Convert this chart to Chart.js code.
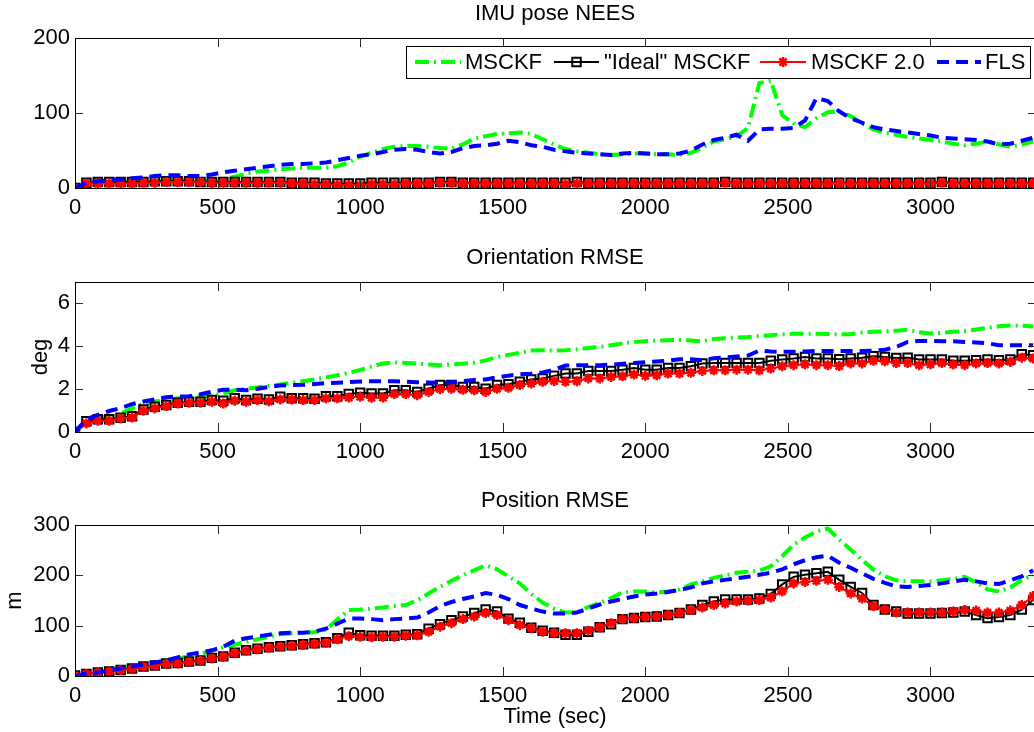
<!DOCTYPE html>
<html>
<head>
<meta charset="utf-8">
<script src="https://cdn.jsdelivr.net/npm/chart.js@4.4.0/dist/chart.umd.min.js"></script>
<style>
  html, body { margin: 0; padding: 0; background: #fff; overflow: hidden; width: 1034px; height: 732px; }
  canvas { position: absolute; left: 0; }
</style>
</head>
<body>
<canvas id="nees" width="1044" height="225" style="top:0"></canvas>
<canvas id="orient" width="1044" height="245" style="top:225px"></canvas>
<canvas id="pos" width="1044" height="262" style="top:470px"></canvas>
<script>
// time stamps (sec)
const times = [
  0, 40, 80, 120, 160, 200, 240, 280, 320, 360,
  400, 440, 480, 520, 560, 600, 640, 680, 720, 760,
  800, 840, 880, 920, 960, 1000, 1040, 1080, 1120, 1160,
  1200, 1240, 1280, 1320, 1360, 1400, 1440, 1480, 1520, 1560,
  1600, 1640, 1680, 1720, 1760, 1800, 1840, 1880, 1920, 1960,
  2000, 2040, 2080, 2120, 2160, 2200, 2240, 2280, 2320, 2360,
  2400, 2440, 2480, 2520, 2560, 2600, 2640, 2680, 2720, 2760,
  2800, 2840, 2880, 2920, 2960, 3000, 3040, 3080, 3120, 3160,
  3200, 3240, 3280, 3320, 3360
];

const seriesNames = ['MSCKF', '"Ideal" MSCKF', 'MSCKF 2.0', 'FLS'];
const xTicks = [0, 500, 1000, 1500, 2000, 2500, 3000];
const neesTicks = [0, 100, 200];
const orientTicks = [0, 2, 4, 6];
const posTicks = [0, 100, 200, 300];

// IMU pose NEES
const neesMsckf = [
  0, 5, 7, 8, 9, 10, 10, 10, 10, 10,
  10, 10, 10, 12, 15, 19, 22, 23, 25, 26,
  27, 27, 27, 29, 34, 42, 47, 52, 55, 56,
  56, 55, 53, 53, 58, 66, 69, 72, 73, 74,
  72, 65, 58, 52, 49, 47, 45, 44, 45, 46,
  46, 45, 45, 44, 47, 54, 62, 65, 69, 80,
  140, 143, 97, 86, 81, 93, 101, 102, 96, 86,
  78, 74, 71, 68, 66, 64, 62, 59, 57, 59,
  62, 58, 55, 58, 62
];
const neesIdeal = [
  0, 7, 8, 8, 8, 8, 8, 9, 9, 9,
  9, 8, 8, 8, 8, 8, 8, 8, 8, 7,
  7, 7, 6, 6, 6, 6, 7, 7, 7, 7,
  7, 7, 8, 8, 7, 7, 7, 7, 7, 7,
  7, 7, 7, 7, 8, 7, 7, 7, 7, 7,
  7, 7, 7, 7, 7, 7, 7, 8, 7, 7,
  7, 7, 7, 7, 7, 7, 7, 7, 7, 7,
  7, 7, 7, 7, 7, 7, 8, 7, 7, 7,
  7, 7, 7, 7, 7
];
const neesMsckf2 = [
  0, 6, 6, 6, 6, 6, 7, 7, 8, 8,
  8, 8, 7, 7, 7, 7, 7, 7, 7, 6,
  6, 5, 5, 4, 4, 4, 5, 5, 5, 6,
  6, 6, 7, 7, 6, 6, 6, 6, 6, 6,
  6, 6, 6, 5, 6, 6, 6, 6, 6, 6,
  6, 6, 6, 6, 6, 6, 6, 7, 6, 6,
  6, 6, 6, 6, 6, 6, 6, 6, 6, 6,
  6, 6, 6, 6, 6, 6, 7, 6, 6, 6,
  6, 6, 6, 6, 6
];
const neesFls = [
  0, 7, 9, 10, 11, 13, 14, 16, 17, 17,
  16, 16, 18, 21, 23, 25, 27, 29, 31, 32,
  32, 33, 34, 37, 40, 43, 45, 48, 51, 52,
  51, 48, 46, 48, 53, 56, 57, 59, 63, 61,
  57, 55, 51, 49, 47, 46, 45, 44, 46, 47,
  46, 45, 45, 46, 50, 58, 64, 67, 71, 63,
  78, 79, 79, 80, 90, 120, 116, 102, 93, 87,
  81, 78, 76, 74, 72, 70, 67, 66, 65, 64,
  62, 58, 59, 63, 67
];

// Orientation RMSE (deg)
const orientMsckf = [
  0, 0.45, 0.65, 0.75, 0.85, 1.10, 1.32, 1.42, 1.48, 1.58,
  1.65, 1.67, 1.70, 1.80, 1.95, 2.02, 2.08, 2.15, 2.22, 2.30,
  2.37, 2.45, 2.55, 2.65, 2.76, 2.90, 3.05, 3.20, 3.25, 3.22,
  3.19, 3.15, 3.12, 3.15, 3.19, 3.23, 3.34, 3.50, 3.60, 3.69,
  3.80, 3.82, 3.80, 3.81, 3.86, 3.92, 3.97, 4.05, 4.13, 4.20,
  4.24, 4.26, 4.28, 4.30, 4.27, 4.23, 4.34, 4.38, 4.41, 4.43,
  4.48, 4.52, 4.56, 4.58, 4.59, 4.59, 4.57, 4.56, 4.56, 4.64,
  4.68, 4.70, 4.73, 4.77, 4.66, 4.60, 4.63, 4.68, 4.71, 4.78,
  4.86, 4.93, 4.97, 4.96, 4.92
];
const orientIdeal = [
  0, 0.50, 0.60, 0.60, 0.67, 0.73, 1.05, 1.18, 1.26, 1.36,
  1.41, 1.41, 1.49, 1.46, 1.57, 1.49, 1.55, 1.52, 1.64, 1.57,
  1.57, 1.55, 1.67, 1.67, 1.77, 1.83, 1.80, 1.80, 1.95, 1.95,
  1.87, 2.02, 2.19, 2.19, 2.10, 2.10, 2.02, 2.19, 2.23, 2.34,
  2.45, 2.50, 2.62, 2.73, 2.73, 2.85, 2.85, 2.85, 2.91, 2.99,
  2.91, 2.91, 2.99, 2.99, 3.07, 3.20, 3.22, 3.22, 3.22, 3.22,
  3.22, 3.32, 3.38, 3.43, 3.50, 3.43, 3.43, 3.40, 3.43, 3.47,
  3.53, 3.50, 3.45, 3.47, 3.38, 3.38, 3.38, 3.32, 3.32, 3.35,
  3.38, 3.35, 3.38, 3.63, 3.58
];
const orientMsckf2 = [
  0, 0.40, 0.53, 0.53, 0.63, 0.68, 0.99, 1.10, 1.21, 1.33,
  1.36, 1.36, 1.41, 1.33, 1.46, 1.41, 1.49, 1.43, 1.52, 1.52,
  1.49, 1.49, 1.57, 1.57, 1.61, 1.64, 1.60, 1.61, 1.77, 1.77,
  1.72, 1.87, 2.00, 2.02, 1.97, 1.95, 1.87, 2.02, 2.06, 2.19,
  2.26, 2.34, 2.38, 2.34, 2.37, 2.50, 2.50, 2.57, 2.60, 2.68,
  2.62, 2.65, 2.73, 2.73, 2.76, 2.85, 2.88, 2.88, 2.91, 2.91,
  2.88, 2.96, 3.07, 3.12, 3.16, 3.12, 3.12, 3.08, 3.20, 3.20,
  3.32, 3.30, 3.22, 3.22, 3.12, 3.16, 3.22, 3.15, 3.12, 3.20,
  3.22, 3.20, 3.27, 3.47, 3.43
];
const orientFls = [
  0, 0.60, 0.80, 0.98, 1.12, 1.30, 1.42, 1.52, 1.62, 1.66,
  1.67, 1.76, 1.88, 1.97, 1.97, 1.95, 2.02, 2.10, 2.17, 2.19,
  2.20, 2.24, 2.28, 2.30, 2.33, 2.36, 2.37, 2.37, 2.37, 2.35,
  2.32, 2.31, 2.29, 2.32, 2.38, 2.43, 2.45, 2.55, 2.63, 2.69,
  2.72, 2.78, 2.90, 3.10, 3.12, 3.12, 3.12, 3.14, 3.18, 3.22,
  3.26, 3.29, 3.33, 3.40, 3.40, 3.35, 3.44, 3.48, 3.52, 3.57,
  3.80, 3.76, 3.74, 3.74, 3.76, 3.78, 3.78, 3.78, 3.78, 3.78,
  3.80, 3.84, 3.97, 4.20, 4.25, 4.25, 4.24, 4.23, 4.20, 4.18,
  4.14, 4.05, 4.05, 4.05, 4.05
];

// Position RMSE (m)
const posMsckf = [
  0, 4, 7, 11, 15, 19, 23, 27, 30, 35,
  39, 44, 50, 57, 62, 68, 73, 78, 83, 85,
  86, 87, 92, 112, 131, 132, 134, 136, 139, 141,
  150, 164, 177, 189, 200, 210, 220, 212, 198, 184,
  163, 146, 134, 126, 127, 137, 145, 155, 166, 168,
  168, 166, 168, 172, 182, 188, 195, 200, 205, 207,
  209, 218, 238, 261, 275, 287, 293, 271, 251, 231,
  211, 198, 190, 188, 188, 188, 190, 193, 197, 186,
  172, 168, 176, 190, 201
];
const posIdeal = [
  1, 4, 7, 9, 12, 15, 19, 21, 25, 26,
  29, 31, 36, 39, 46, 51, 54, 57, 59, 61,
  63, 65, 67, 75, 86, 81, 80, 80, 80, 82,
  83, 94, 103, 111, 118, 125, 132, 128, 114, 106,
  96, 90, 86, 82, 82, 88, 97, 103, 113, 115,
  117, 118, 121, 125, 132, 141, 148, 152, 152, 152,
  154, 163, 182, 197, 201, 204, 207, 191, 177, 165,
  141, 132, 128, 124, 124, 124, 125, 126, 128, 121,
  115, 117, 121, 132, 151
];
const posMsckf2 = [
  1, 4, 6.6, 8.6, 12, 14, 18.5, 20.5, 24, 25,
  28, 30, 35, 38, 45, 50, 53, 56, 58, 60,
  62, 64, 66, 73, 79, 78, 77, 78, 78, 80,
  81, 88, 98, 105, 113, 118, 125, 121, 111, 101,
  95, 88, 85, 85, 85, 90, 97, 105, 113, 115,
  117, 118, 121, 125, 131, 136, 141, 144, 148, 150,
  151, 156, 168, 184, 187, 189, 191, 177, 164, 154,
  139, 132, 126, 126, 126, 126, 126, 128, 131, 130,
  126, 126, 130, 141, 159
];
const posFls = [
  0, 5, 7, 11, 15, 19, 23, 27, 31, 37,
  43, 47, 51, 58, 70, 75, 78, 82, 85, 86,
  86, 88, 94, 104, 114, 114, 113, 111, 113, 114,
  116, 126, 139, 147, 153, 158, 165, 161, 153, 141,
  134, 128, 124, 124, 126, 134, 142, 148, 153, 158,
  162, 164, 167, 171, 176, 184, 188, 191, 194, 197,
  201, 205, 212, 222, 230, 236, 239, 225, 215, 204,
  193, 185, 178, 177, 179, 181, 184, 188, 191, 188,
  184, 183, 190, 198, 210
];

const FONT = '"Liberation Sans", Arial, Helvetica, sans-serif';
Chart.defaults.font.family = FONT;
Chart.defaults.font.size = 22;
Chart.defaults.color = '#000';

// right edge of the axes sits just outside the window, as in the original
const X_MAX = 3370;
const PLOT_RIGHT = 1037;

const styles = [
  { color: '#00ff00', width: 4, dash: [14, 5, 2, 5], marker: false, order: 4 },
  { color: '#000000', width: 2, dash: [], marker: 'rect', radius: 6, mw: 2, order: 3 },
  { color: '#ff0000', width: 2, dash: [], marker: 'star', radius: 5, mw: 2.5, order: 2 },
  { color: '#0000ff', width: 4, dash: [12, 7], marker: false, order: 1 }
];

function pts(vals) {
  return times.map((t, i) => ({ x: t, y: vals[i] }));
}

function makeDatasets(list) {
  return list.map((vals, i) => {
    const s = styles[i];
    return {
      label: seriesNames[i],
      data: pts(vals),
      borderColor: s.color,
      borderWidth: s.width,
      borderDash: s.dash,
      pointStyle: s.marker || 'circle',
      pointRadius: s.marker ? s.radius : 0,
      pointBorderColor: s.color,
      pointBackgroundColor: 'rgba(0,0,0,0)',
      pointBorderWidth: s.mw || 1,
      tension: 0,
      fill: false,
      order: s.order
    };
  });
}

function line(ctx, x1, y1, x2, y2) {
  ctx.beginPath();
  ctx.moveTo(x1, y1);
  ctx.lineTo(x2, y2);
  ctx.stroke();
}

// frame, inward tick marks, titles, axis labels, legend
const panelPlugin = {
  id: 'panel',
  afterDatasetsDraw(chart, args, opts) {
    const ctx = chart.ctx;
    const a = chart.chartArea;
    const sx = chart.scales.x, sy = chart.scales.y;
    ctx.save();
    ctx.lineWidth = 1;
    ctx.strokeStyle = '#2a2a2a';
    sx.ticks.forEach(t => {
      const px = Math.round(sx.getPixelForValue(t.value)) + 0.5;
      line(ctx, px, a.bottom, px, a.bottom - 9);
      line(ctx, px, a.top, px, a.top + 9);
    });
    sy.ticks.forEach(t => {
      const py = Math.round(sy.getPixelForValue(t.value)) + 0.5;
      line(ctx, a.left, py, a.left + 8, py);
      line(ctx, a.right, py, a.right - 8, py);
    });
    ctx.strokeStyle = '#000';
    ctx.strokeRect(Math.round(a.left) + 0.5, Math.round(a.top) + 0.5,
      Math.round(a.right - a.left), Math.round(a.bottom - a.top));

    ctx.fillStyle = '#000';
    ctx.font = '22px ' + FONT;
    ctx.textAlign = 'center';
    ctx.textBaseline = 'middle';
    ctx.fillText(opts.title, 555, a.top - 24);
    if (opts.xlabel) {
      ctx.fillText(opts.xlabel, 555, a.bottom + 41);
    }
    if (opts.ylabel) {
      ctx.save();
      ctx.translate(opts.ylabelX, (a.top + a.bottom) / 2);
      ctx.rotate(-Math.PI / 2);
      ctx.fillText(opts.ylabel, 0, 0);
      ctx.restore();
    }
    if (opts.legend) drawLegend(ctx);
    ctx.restore();
  }
};

function drawLegend(ctx) {
  const top = 46, bottom = 78, left = 406, right = 1030;
  const cy = (top + bottom) / 2;
  ctx.fillStyle = '#fff';
  ctx.fillRect(left, top, right - left, bottom - top);
  ctx.strokeStyle = '#000';
  ctx.lineWidth = 1;
  ctx.strokeRect(left + 0.5, top + 0.5, right - left, bottom - top);

  const items = [
    { x0: 415, x1: 461, tx: 465 },
    { x0: 554, x1: 599, tx: 604 },
    { x0: 760, x1: 806, tx: 811 },
    { x0: 937, x1: 981, tx: 985 }
  ];
  items.forEach((it, i) => {
    const s = styles[i];
    ctx.save();
    ctx.strokeStyle = s.color;
    ctx.lineWidth = s.width;
    ctx.setLineDash(s.dash);
    line(ctx, it.x0, cy, it.x1, cy);
    ctx.setLineDash([]);
    if (s.marker) {
      ctx.fillStyle = 'rgba(0,0,0,0)';
      ctx.lineWidth = s.mw;
      Chart.helpers.drawPoint(ctx, {
        pointStyle: s.marker, radius: s.radius, borderWidth: s.mw
      }, (it.x0 + it.x1) / 2, cy);
    }
    ctx.restore();
    ctx.fillStyle = '#000';
    ctx.textAlign = 'left';
    ctx.textBaseline = 'middle';
    ctx.font = '22px ' + FONT;
    ctx.fillText(seriesNames[i], it.tx, cy + 1);
  });
}

function makePanel(id, series, yMax, yTicks, chartTop, chartBottom, panelOpts) {
  const canvas = document.getElementById(id);
  const H = canvas.height;
  return new Chart(canvas, {
    type: 'line',
    data: { datasets: makeDatasets(series) },
    plugins: [panelPlugin],
    options: {
      responsive: false,
      animation: false,
      events: [],
      layout: { padding: { top: chartTop, right: canvas.width - PLOT_RIGHT, left: 0, bottom: 0 } },
      plugins: {
        legend: { display: false },
        tooltip: { enabled: false },
        panel: panelOpts
      },
      scales: {
        x: {
          type: 'linear',
          min: 0,
          max: X_MAX,
          grid: { display: false, drawTicks: false },
          border: { display: false },
          ticks: { autoSkip: false, maxRotation: 0, padding: 7, callback: v => String(v) },
          afterBuildTicks: s => { s.ticks = xTicks.map(v => ({ value: v })); },
          afterFit: s => { s.height = H - chartBottom; }
        },
        y: {
          type: 'linear',
          min: 0,
          max: yMax,
          grid: { display: false, drawTicks: false },
          border: { display: false },
          ticks: { padding: 5, callback: v => String(v) },
          afterBuildTicks: s => { s.ticks = yTicks.map(v => ({ value: v })); },
          afterFit: s => { s.width = 75; }
        }
      }
    }
  });
}

makePanel('nees', [neesMsckf, neesIdeal, neesMsckf2, neesFls], 200, neesTicks, 38, 188,
  { title: 'IMU pose NEES', legend: true });
makePanel('orient', [orientMsckf, orientIdeal, orientMsckf2, orientFls], 7, orientTicks, 57, 207,
  { title: 'Orientation RMSE', ylabel: 'deg', ylabelX: 41 });
makePanel('pos', [posMsckf, posIdeal, posMsckf2, posFls], 300, posTicks, 55, 206,
  { title: 'Position RMSE', ylabel: 'm', ylabelX: 15, xlabel: 'Time (sec)' });
</script>
</body>
</html>
